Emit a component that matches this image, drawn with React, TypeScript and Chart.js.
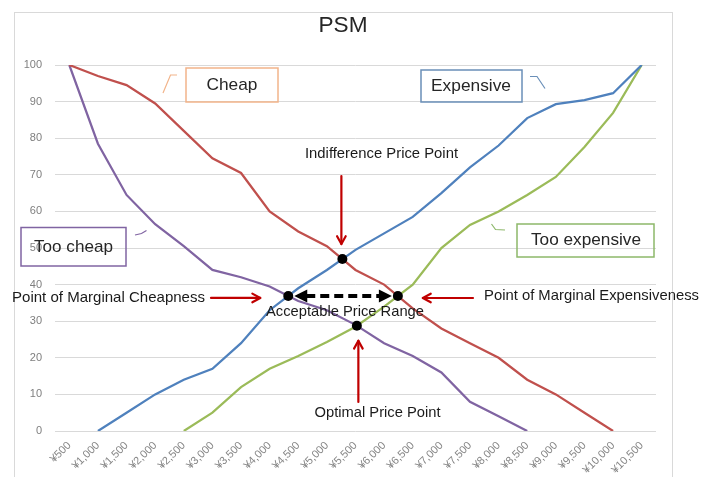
import { useEffect, useRef } from "react";
import { Chart, registerables } from "chart.js";

Chart.register(...registerables);

const priceLabels = [
  "¥500", "¥1,000", "¥1,500", "¥2,000", "¥2,500", "¥3,000", "¥3,500",
  "¥4,000", "¥4,500", "¥5,000", "¥5,500", "¥6,000", "¥6,500", "¥7,000",
  "¥7,500", "¥8,000", "¥8,500", "¥9,000", "¥9,500", "¥10,000", "¥10,500",
];

const cheap = [100, 97, 94.5, 89.5, 82, 74.5, 70.5, 60, 54.5, 50.5, 44, 40, 33.5, 28, 24, 20, 14, 10, 5, 0, null];
const expensive = [null, 0, 5, 10, 14, 17, 24, 33, 39, 44, 49.5, 54, 58.5, 65, 72, 78, 85.5, 89.3, 90.4, 92.3, 100];
const tooCheap = [100, 78.5, 64.5, 56.5, 50.5, 44, 42, 39.5, 35.5, 33, 29, 24, 20.5, 16, 8, 4, 0, null, null, null, null];
const tooExpensive = [null, null, null, null, 0, 5, 12, 17, 20.5, 24.3, 28.5, 34, 40, 50, 56.3, 60, 64.5, 69.4, 77.6, 86.9, 100];

const seriesNames = ["Cheap", "Expensive", "Too cheap", "Too expensive"];
const titleText = "PSM";
const pointNames = [
  "Indifference Price Point",
  "Point of Marginal Cheapness",
  "Point of Marginal Expensiveness",
  "Acceptable Price Range",
  "Optimal Price Point",
];

const FONT = '"Liberation Sans", Arial, sans-serif';

function crossing(a: (number | null)[], b: (number | null)[]) {
  for (let i = 0; i < a.length - 1; i++) {
    const a0 = a[i], a1 = a[i + 1], b0 = b[i], b1 = b[i + 1];
    if (a0 == null || a1 == null || b0 == null || b1 == null) continue;
    const d0 = a0 - b0, d1 = a1 - b1;
    if (d0 * d1 < 0) {
      const t = d0 / (d0 - d1);
      return { i: i + t, v: a0 + t * (a1 - a0) };
    }
  }
  return { i: 0, v: 0 };
}

function fitText(ctx: CanvasRenderingContext2D, text: string, cx: number, cy: number, w: number, size: number, color: string) {
  ctx.save();
  ctx.font = `${size}px ${FONT}`;
  ctx.fillStyle = color;
  ctx.textAlign = "center";
  ctx.textBaseline = "middle";
  const m = ctx.measureText(text).width;
  ctx.translate(cx, cy);
  ctx.scale(w / m, 1);
  ctx.fillText(text, 0, 0);
  ctx.restore();
}

function redArrow(ctx: CanvasRenderingContext2D, x1: number, y1: number, x2: number, y2: number) {
  const c = "#C00000";
  ctx.save();
  ctx.strokeStyle = c;
  ctx.lineWidth = 2.2;
  ctx.lineCap = "round";
  ctx.lineJoin = "round";
  ctx.beginPath();
  ctx.moveTo(x1, y1);
  ctx.lineTo(x2, y2);
  ctx.stroke();
  const ang = Math.atan2(y2 - y1, x2 - x1);
  const L = 9;
  ctx.beginPath();
  ctx.moveTo(x2 - L * Math.cos(ang - 0.5), y2 - L * Math.sin(ang - 0.5));
  ctx.lineTo(x2, y2);
  ctx.lineTo(x2 - L * Math.cos(ang + 0.5), y2 - L * Math.sin(ang + 0.5));
  ctx.stroke();
  ctx.restore();
}

function dot(ctx: CanvasRenderingContext2D, x: number, y: number) {
  ctx.save();
  ctx.fillStyle = "#000";
  ctx.beginPath();
  ctx.arc(x, y, 5, 0, Math.PI * 2);
  ctx.fill();
  ctx.restore();
}

function box(ctx: CanvasRenderingContext2D, x: number, y: number, w: number, h: number, color: string) {
  ctx.save();
  ctx.strokeStyle = color;
  ctx.lineWidth = 1.5;
  ctx.strokeRect(x, y, w, h);
  ctx.restore();
}

function leader(ctx: CanvasRenderingContext2D, pts: number[][], color: string) {
  ctx.save();
  ctx.strokeStyle = color;
  ctx.lineWidth = 1.2;
  ctx.beginPath();
  pts.forEach((p, k) => (k === 0 ? ctx.moveTo(p[0], p[1]) : ctx.lineTo(p[0], p[1])));
  ctx.stroke();
  ctx.restore();
}

const framePlugin = {
  id: "frame",
  beforeDraw(chart: any) {
    const ctx = chart.ctx as CanvasRenderingContext2D;
    ctx.save();
    ctx.fillStyle = "#fff";
    ctx.fillRect(0, 0, chart.width, chart.height);
    ctx.strokeStyle = "#D9D9D9";
    ctx.lineWidth = 1;
    ctx.strokeRect(14.5, 12.5, 658, 500);
    ctx.restore();
  },
};

const annotationPlugin = {
  id: "psmNotes",
  afterDraw(chart: any) {
    const ctx = chart.ctx as CanvasRenderingContext2D;
    const xs = chart.scales.x;
    const ys = chart.scales.y;
    const px = (c: { i: number; v: number }) => ({ x: xs.getPixelForValue(c.i), y: ys.getPixelForValue(c.v) });

    const ip = px(crossing(cheap, expensive));
    const mc = px(crossing(tooCheap, expensive));
    const me = px(crossing(cheap, tooExpensive));
    const op = px(crossing(tooCheap, tooExpensive));

    // title
    fitText(ctx, titleText, 343, 25.5, 49, 22.5, "#262626");

    // series label boxes
    box(ctx, 186, 68, 92, 34, "#F2B48A");
    fitText(ctx, seriesNames[0], 232, 85, 51, 17, "#262626");
    leader(ctx, [[163, 93], [170.5, 75], [177, 75]], "#F2B48A");

    box(ctx, 421, 70, 101, 32, "#6A8FB8");
    fitText(ctx, seriesNames[1], 471, 86, 80, 17, "#262626");
    leader(ctx, [[530, 76.5], [537, 76.5], [545, 88.5]], "#6A8FB8");

    box(ctx, 21, 227.5, 105, 38.5, "#8064A2");
    fitText(ctx, seriesNames[2], 73.5, 247, 79, 17, "#262626");
    leader(ctx, [[135, 235], [141.5, 233.5], [146.5, 230.5]], "#8064A2");

    box(ctx, 517, 224, 137, 33, "#8DB86A");
    fitText(ctx, seriesNames[3], 586, 240.5, 110, 16, "#262626");
    leader(ctx, [[491.5, 224], [495.5, 229.5], [505, 230]], "#8DB86A");

    // dashed double arrow (acceptable range)
    const ay = (mc.y + me.y) / 2;
    const lx = mc.x + 6, rx = me.x - 6;
    ctx.save();
    ctx.strokeStyle = "#000";
    ctx.fillStyle = "#000";
    ctx.lineWidth = 4;
    ctx.setLineDash([9, 5]);
    ctx.beginPath();
    ctx.moveTo(lx + 12, ay);
    ctx.lineTo(rx - 12, ay);
    ctx.stroke();
    ctx.setLineDash([]);
    ctx.beginPath();
    ctx.moveTo(lx, ay);
    ctx.lineTo(lx + 13, ay - 6.5);
    ctx.lineTo(lx + 13, ay + 6.5);
    ctx.closePath();
    ctx.fill();
    ctx.beginPath();
    ctx.moveTo(rx, ay);
    ctx.lineTo(rx - 13, ay - 6.5);
    ctx.lineTo(rx - 13, ay + 6.5);
    ctx.closePath();
    ctx.fill();
    ctx.restore();

    // red arrows
    redArrow(ctx, ip.x - 1, 176, ip.x - 1, ip.y - 15);
    redArrow(ctx, 211, mc.y + 2, mc.x - 28, mc.y + 2);
    redArrow(ctx, 473, me.y + 2, me.x + 25, me.y + 2);
    redArrow(ctx, op.x + 1.5, 402, op.x + 1.5, op.y + 15);

    // dots
    dot(ctx, ip.x, ip.y);
    dot(ctx, mc.x, mc.y);
    dot(ctx, me.x, me.y);
    dot(ctx, op.x, op.y);

    // annotation texts
    fitText(ctx, pointNames[0], 381.5, 154, 153, 15, "#1a1a1a");
    fitText(ctx, pointNames[1], 108.5, 298, 193, 15, "#1a1a1a");
    fitText(ctx, pointNames[2], 591.5, 295.5, 215, 15, "#1a1a1a");
    fitText(ctx, pointNames[3], 345, 312, 158, 15, "#1a1a1a");
    fitText(ctx, pointNames[4], 377.5, 413, 126, 15, "#1a1a1a");
  },
};

export default function App() {
  const ref = useRef<HTMLCanvasElement>(null);
  useEffect(() => {
    const line = (label: string, data: (number | null)[], color: string) => ({
      label,
      data,
      borderColor: color,
      backgroundColor: color,
      borderWidth: 2.25,
      pointRadius: 0,
      tension: 0,
      fill: false,
    });
    const chart = new Chart(ref.current as HTMLCanvasElement, {
      type: "line",
      data: {
        labels: priceLabels,
        datasets: [
          line(seriesNames[0], cheap, "#C0504D"),
          line(seriesNames[1], expensive, "#4F81BD"),
          line(seriesNames[2], tooCheap, "#8064A2"),
          line(seriesNames[3], tooExpensive, "#9BBB59"),
        ],
      },
      options: {
        responsive: false,
        animation: false,
        devicePixelRatio: 1,
        layout: { padding: { left: 14, right: 47, top: 65, bottom: 0 } },
        plugins: {
          legend: { display: false },
          title: { display: false },
          tooltip: { enabled: false },
        },
        scales: {
          x: {
            offset: true,
            grid: { display: false, drawTicks: false },
            border: { display: false },
            ticks: {
              autoSkip: false,
              minRotation: 45,
              maxRotation: 45,
              padding: 8,
              color: "#858585",
              font: { family: FONT, size: 11 },
            },
            afterFit: (s: any) => {
              s.height = 46;
            },
          },
          y: {
            min: 0,
            max: 100,
            grid: { color: "#D9D9D9", drawTicks: false, lineWidth: 1 },
            border: { display: false },
            ticks: {
              stepSize: 10,
              padding: 13,
              color: "#7F7F7F",
              font: { family: FONT, size: 11 },
            },
            afterFit: (s: any) => {
              s.width = 41;
            },
          },
        },
      },
      plugins: [framePlugin, annotationPlugin],
    } as any);
    return () => chart.destroy();
  }, []);
  return (
    <div style={{ position: "fixed", left: 0, top: 0, width: 703, height: 477, background: "#fff" }}>
      <canvas ref={ref} width={703} height={477} style={{ width: 703, height: 477, display: "block" }} />
    </div>
  );
}
